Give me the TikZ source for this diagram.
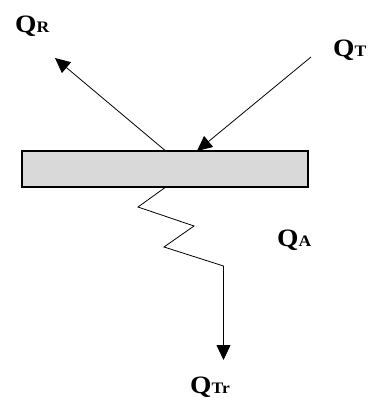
\documentclass[tikz,border=0pt]{standalone}
\usepackage{fontspec}
\setmainfont{Liberation Serif}
\usetikzlibrary{arrows.meta}
\newcommand{\flux}[1]{{\fontsize{25}{25}\selectfont\bfseries Q}{\fontsize{16}{16}\selectfont\bfseries #1}}

\begin{document}
\begin{tikzpicture}[x=1pt, y=-1pt,
  fleche/.style={-{Triangle[length=15pt, width=14pt]}, line width=0.8pt},
  etiquette/.style={anchor=base west, inner sep=0pt, xscale=1.1},
  plaque/.style={draw, line width=1.2pt, fill=gray!30, inner sep=0pt, minimum width=286pt, minimum height=36pt}]
\useasboundingbox (0,0) rectangle (374,398);

% Plaque grise
\node[plaque] (plaque) at (165,169) {};

% Extrémités des flèches
\coordinate (bout R) at (55,58);
\coordinate (depart T) at (311,57);
\coordinate (arrivee T) at (197,151);
\coordinate (bas) at (223.5,360);

% Flux réfléchi et flux incident
\draw[fleche] (plaque.north) -- (bout R);
\draw[fleche] (depart T) -- (arrivee T);

% Flux absorbé en zigzag puis transmis
\draw[fleche] (plaque.south) -- (138,207) -- (194,226) -- (164,247) -- (223.5,266) -- (bas);

% Étiquettes
\node[etiquette] (QR) at (15,33) {\flux{R}};
\node[etiquette] (QT) at (333,57) {\flux{T}};
\node[etiquette] (QA) at (277,246) {\flux{A}};
\node[etiquette] (QTr) at (190,393) {\flux{Tr}};
\end{tikzpicture}
\end{document}
